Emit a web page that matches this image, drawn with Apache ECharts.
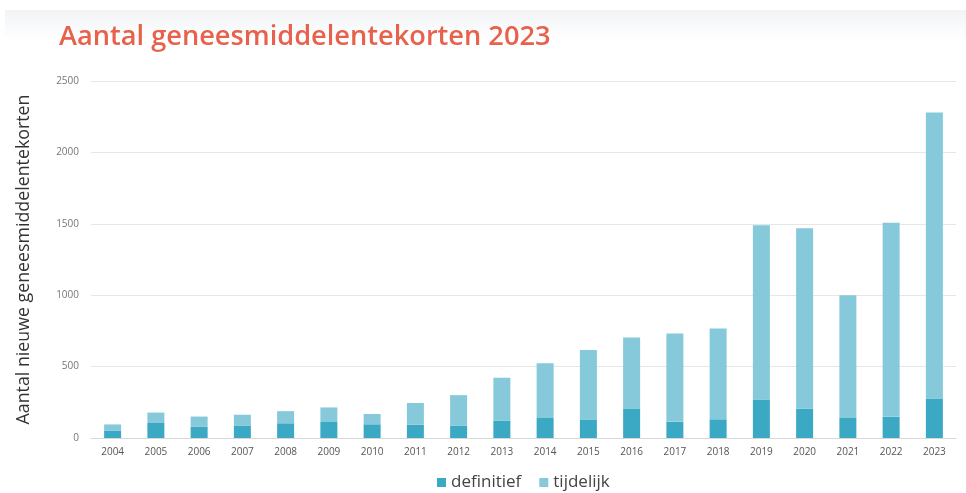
<!DOCTYPE html>
<html>
<head>
<meta charset="utf-8">
<script src="https://cdn.jsdelivr.net/npm/echarts@6/dist/echarts.min.js"></script>
<style>
  html, body { margin: 0; padding: 0; background: #ffffff; }
  #chart { width: 966px; height: 493px; }
</style>
</head>
<body>
<div id="chart"></div>
<script>
// Years on the category axis
var years = ['2004','2005','2006','2007','2008','2009','2010','2011','2012','2013',
             '2014','2015','2016','2017','2018','2019','2020','2021','2022','2023'];
// Definitive shortages per year (bottom segment)
var definitief = [50, 105, 78, 88, 103, 112, 96, 93, 85, 120,
                  140, 130, 207, 113, 131, 270, 205, 140, 148, 277];
// Temporary shortages per year (stacked on top)
var tijdelijk = [45, 73, 72, 75, 85, 102, 72, 152, 215, 302,
                 384, 487, 496, 618, 636, 1219, 1264, 859, 1360, 2003];
// Value axis ticks
var yTicks = [0, 500, 1000, 1500, 2000, 2500];

var chart = echarts.init(document.getElementById('chart'), null, { renderer: 'canvas' });

chart.setOption({
  animation: false,
  backgroundColor: '#ffffff',
  graphic: [{
    type: 'rect',
    silent: true,
    z: -10,
    shape: { x: 5, y: 10, width: 961, height: 30 },
    style: {
      fill: new echarts.graphic.LinearGradient(0, 0, 0, 1, [
        { offset: 0, color: '#f1f3f5' },
        { offset: 1, color: '#ffffff' }
      ])
    }
  }],
  title: {
    text: 'Aantal geneesmiddelentekorten 2023',
    left: 54,
    top: 19,
    textStyle: {
      fontFamily: 'Open Sans',
      fontSize: 27.2,
      fontWeight: 600,
      color: '#e8614c'
    }
  },
  legend: {
    left: 432,
    top: 469,
    itemWidth: 9,
    itemHeight: 9,
    itemGap: 18,
    icon: 'rect',
    textStyle: { fontFamily: 'Open Sans', fontSize: 17, color: '#444444' },
    data: ['definitief', 'tijdelijk']
  },
  grid: { left: 91, right: 10, top: 81, bottom: 55, containLabel: false },
  xAxis: {
    type: 'category',
    data: years,
    axisTick: { show: false },
    axisLine: { lineStyle: { color: '#d8d8d8' } },
    axisLabel: { fontFamily: 'Open Sans', fontSize: 10, color: '#555555', margin: 9 }
  },
  yAxis: {
    type: 'value',
    min: yTicks[0],
    max: yTicks[yTicks.length - 1],
    interval: yTicks[1] - yTicks[0],
    name: 'Aantal nieuwe geneesmiddelentekorten',
    nameLocation: 'middle',
    nameGap: 58,
    nameTextStyle: { fontFamily: 'Open Sans', fontSize: 17.8, color: '#333333' },
    axisLine: { show: false },
    axisTick: { show: false },
    axisLabel: {
      fontFamily: 'Open Sans', fontSize: 10, color: '#777777', margin: 12,
      formatter: function (v) { return String(v); }
    },
    splitLine: { lineStyle: { color: '#e6e6e6', width: 1 } }
  },
  series: [
    {
      name: 'definitief',
      type: 'bar',
      stack: 'totaal',
      barWidth: 17,
      itemStyle: { color: '#3ba9c4' },
      data: definitief
    },
    {
      name: 'tijdelijk',
      type: 'bar',
      stack: 'totaal',
      barWidth: 17,
      itemStyle: { color: '#86c9da' },
      data: tijdelijk
    }
  ]
});
</script>
</body>
</html>
